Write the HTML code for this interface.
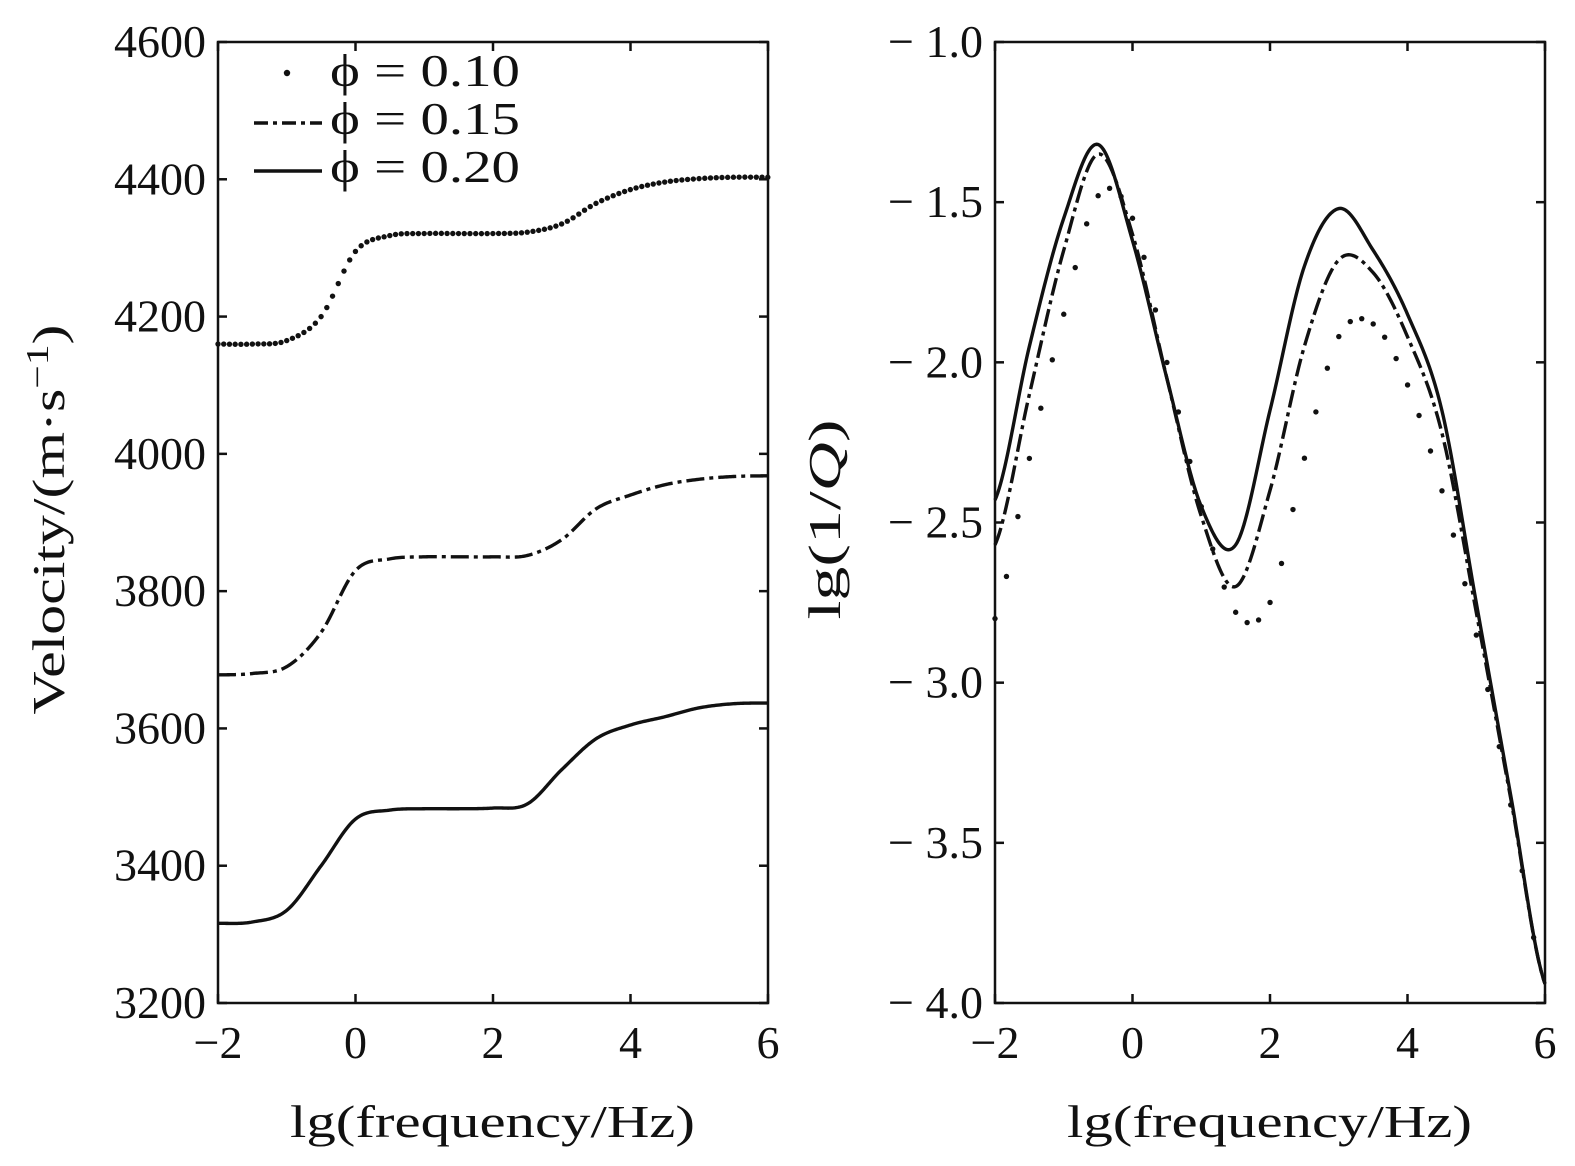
<!DOCTYPE html>
<html><head><meta charset="utf-8"><style>
body{margin:0;background:#fff}
svg text{font-family:"Liberation Serif","DejaVu Serif",serif;fill:#111}
</style></head><body>
<svg id="c" width="1575" height="1161" xmlns="http://www.w3.org/2000/svg"></svg>
<script>
const xs=[-2,-1.5,-1,-0.5,0,0.5,1,1.5,2,2.5,3,3.5,4,4.5,5,5.5,6];
const velPhi10=[4160,4160,4165,4200,4295,4318,4321,4321,4321,4323,4335,4365,4385,4396,4401,4403,4403];
const velPhi15=[3678,3680,3690,3740,3830,3847,3850,3850,3850,3852,3875,3920,3940,3955,3963,3967,3968];
const velPhi20=[3316,3318,3335,3400,3468,3481,3483,3483,3484,3490,3540,3585,3605,3617,3630,3636,3637];
const qPhi10=[-2.80,-2.30,-1.85,-1.48,-1.55,-2.0,-2.45,-2.78,-2.75,-2.30,-1.92,-1.88,-2.07,-2.40,-2.85,-3.38,-3.94];
const qPhi15=[-2.57,-2.10,-1.65,-1.35,-1.60,-2.05,-2.48,-2.70,-2.40,-1.95,-1.68,-1.72,-1.92,-2.22,-2.78,-3.36,-3.94];
const qPhi20=[-2.43,-1.95,-1.55,-1.32,-1.62,-2.05,-2.45,-2.57,-2.15,-1.70,-1.52,-1.65,-1.85,-2.15,-2.75,-3.35,-3.94];
const xTicks=[-2,0,2,4,6];
const velTicks=[3200,3400,3600,3800,4000,4200,4400,4600];
const qTicks=[-4.0,-3.5,-3.0,-2.5,-2.0,-1.5,-1.0];
const legendLabels=["ϕ = 0.10","ϕ = 0.15","ϕ = 0.20"];

const svg=document.getElementById('c');const NS='http://www.w3.org/2000/svg';
function mk(t,a,p){const e=document.createElementNS(NS,t);for(const k in a)e.setAttribute(k,a[k]);(p||svg).appendChild(e);return e;}
function interp(ys,x){const h=0.5;let i=Math.min(Math.floor((x-xs[0])/h),xs.length-2);if(i<0)i=0;const t=(x-xs[i])/h;
const p0=ys[Math.max(i-1,0)],p1=ys[i],p2=ys[i+1],p3=ys[Math.min(i+2,ys.length-1)];
return 0.5*((2*p1)+(-p0+p2)*t+(2*p0-5*p1+4*p2-p3)*t*t+(-p0+3*p1-3*p2+p3)*t*t*t);}

function panel(name,L,R,T,B,ymin,ymax,yt,fmt,series,ylabel,ylx,ylen){
 const g=mk('g',{});  
 const X=v=>L+(v+2)/8*(R-L), Y=v=>B-(v-ymin)/(ymax-ymin)*(B-T);
 series.forEach(s=>{
  if(s.style==='dot'){const sg=mk('g',{},g);
   for(let x=-2;x<=6.0001;x+=s.step){mk('circle',{cx:X(x),cy:Y(interp(s.ys,x)),r:2.7,fill:'#111'},sg);}}
  else{let d='';for(let x=-2;x<=6.0001;x+=0.02){d+=(d?'L':'M')+X(x).toFixed(2)+' '+Y(interp(s.ys,x)).toFixed(2);}
   const p=mk('path',{d:d,fill:'none',stroke:'#111','stroke-width':3.4,'stroke-dasharray':s.style==='dash'?'18,5,4,5':'none'},g);
   }
 });
 mk('rect',{x:L,y:T,width:R-L,height:B-T,fill:'none',stroke:'#111','stroke-width':2.5},g);
 xTicks.forEach(v=>{const x=X(v);mk('line',{x1:x,y1:B,x2:x,y2:B-9,stroke:'#111','stroke-width':2.5},g);mk('line',{x1:x,y1:T,x2:x,y2:T+9,stroke:'#111','stroke-width':2.5},g);
  const t=mk('text',{x:x,y:B+55,'text-anchor':'middle','font-size':46},g);t.textContent=v<0?'−'+Math.abs(v):String(v);});
 yt.forEach(v=>{const y=Y(v);mk('line',{x1:L,y1:y,x2:L+9,y2:y,stroke:'#111','stroke-width':2.5},g);mk('line',{x1:R,y1:y,x2:R-9,y2:y,stroke:'#111','stroke-width':2.5},g);
  const t=mk('text',{x:L-12,y:y+15,'text-anchor':'end','font-size':46},g);t.textContent=fmt(v);});
 const xl=mk('text',{x:(L+R)/2-203,y:1137,'font-size':46,textLength:405,lengthAdjust:'spacingAndGlyphs'},g);xl.textContent='lg(frequency/Hz)';
 
 const yl=mk('text',{x:-ylen/2,y:0,'font-size':46,textLength:ylen,lengthAdjust:'spacingAndGlyphs',transform:`translate(${ylx},${(T+B)/2-3}) rotate(-90)`},g);yl.innerHTML=ylabel;
 
}
panel('velocity-panel',218,768,42,1003,3200,4600,velTicks,v=>String(v),
 [{name:'velocity-phi-0.10',ys:velPhi10,style:'dot',step:0.0833},{name:'velocity-phi-0.15',ys:velPhi15,style:'dash'},{name:'velocity-phi-0.20',ys:velPhi20,style:'solid'}],
 'Velocity/(m·s<tspan dy="-16" font-size="32">−1</tspan><tspan dy="16">)</tspan>',64,390);
panel('attenuation-panel',995,1545,42,1003,-4,-1,qTicks,v=>'− '+Math.abs(v).toFixed(1),
 [{name:'q-phi-0.10',ys:qPhi10,style:'dot',step:0.1667},{name:'q-phi-0.15',ys:qPhi15,style:'dash'},{name:'q-phi-0.20',ys:qPhi20,style:'solid'}],
 'lg(1/<tspan font-style="italic">Q</tspan>)',840,200);
const lg=mk('g',{});
mk('circle',{cx:287,cy:73,r:3.2,fill:'#111'},lg);
mk('line',{x1:254,y1:123,x2:322,y2:123,stroke:'#111','stroke-width':3.4,'stroke-dasharray':'14,5,4,5'},lg);
mk('line',{x1:254,y1:171,x2:322,y2:171,stroke:'#111','stroke-width':3.4},lg);
legendLabels.forEach((s,i)=>{const t=mk('text',{x:330,y:86+i*48,'font-size':46,textLength:190,lengthAdjust:'spacingAndGlyphs'},lg);t.textContent=s;
 });
</script>
</body></html>
